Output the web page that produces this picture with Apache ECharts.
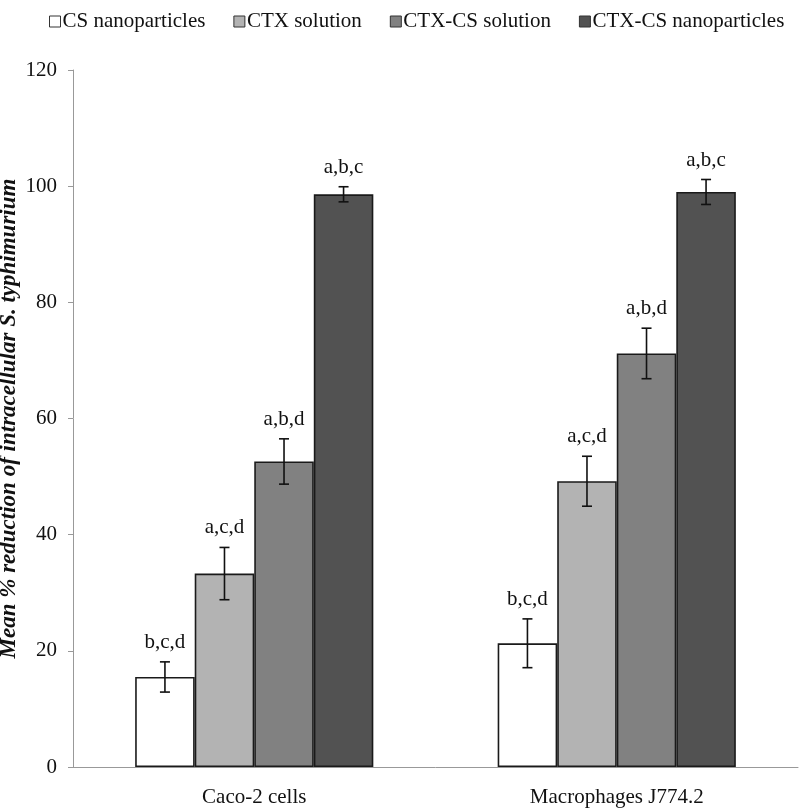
<!DOCTYPE html>
<html>
<head>
<meta charset="utf-8">
<script src="https://cdn.jsdelivr.net/npm/echarts@6/dist/echarts.min.js"></script>
<style>html,body{margin:0;padding:0;background:#fff}#c{width:799px;height:811px}</style>
</head>
<body>
<div id="c"></div>
<script>
const categories = ["Caco-2 cells", "Macrophages J774.2"];
const seriesNames = ["CS nanoparticles", "CTX solution", "CTX-CS solution", "CTX-CS nanoparticles"];
const csNano = [15.5, 21.3];
const ctxSol = [33.3, 49.2];
const ctxCsSol = [52.6, 71.2];
const ctxCsNano = [98.6, 99.0];
const csNanoErr = [2.6, 4.2];
const ctxSolErr = [4.5, 4.3];
const ctxCsSolErr = [3.9, 4.35];
const ctxCsNanoErr = [1.3, 2.15];
const csNanoSig = ["b,c,d", "b,c,d"];
const ctxSolSig = ["a,c,d", "a,c,d"];
const ctxCsSolSig = ["a,b,d", "a,b,d"];
const ctxCsNanoSig = ["a,b,c", "a,b,c"];
const yTicks = [0, 20, 40, 60, 80, 100, 120];

const values = [csNano, ctxSol, ctxCsSol, ctxCsNano];
const errs = [csNanoErr, ctxSolErr, ctxCsSolErr, ctxCsNanoErr];
const sigs = [csNanoSig, ctxSolSig, ctxCsSolSig, ctxCsNanoSig];
const colors = ["#ffffff", "#b3b3b3", "#818181", "#525252"];
const catGap = 0.343;
const serif = "'Liberation Serif', 'Times New Roman', serif";

const chart = echarts.init(document.getElementById('c'), null, {renderer: 'canvas'});

const series = [];
seriesNames.forEach((name, i) => {
  series.push({
    name: name,
    type: 'bar',
    data: values[i],
    barGap: '0%',
    barCategoryGap: (catGap * 100) + '%',
    itemStyle: {color: colors[i], borderColor: '#1a1a1a', borderWidth: 1.6},
    emphasis: {disabled: true}
  });
});
seriesNames.forEach((name, i) => {
  series.push({
    type: 'custom',
    name: name + ' err',
    data: values[i].map((v, k) => [k, v, errs[i][k]]),
    z: 5,
    silent: true,
    renderItem: function (params, api) {
      const cat = api.value(0), v = api.value(1), e = api.value(2);
      const band = api.size([1, 0])[0];
      const bw = band * (1 - catGap) / 4;
      const cx = api.coord([cat, v])[0] + (i - 1.5) * bw;
      const top = api.coord([cat, v + e])[1];
      const bot = api.coord([cat, v - e])[1];
      const cap = 5;
      const st = {stroke: '#111', lineWidth: 1.6};
      return {
        type: 'group',
        children: [
          {type: 'line', shape: {x1: cx, y1: top, x2: cx, y2: bot}, style: st},
          {type: 'line', shape: {x1: cx - cap, y1: top, x2: cx + cap, y2: top}, style: st},
          {type: 'line', shape: {x1: cx - cap, y1: bot, x2: cx + cap, y2: bot}, style: st},
          {type: 'text', x: cx, y: top - 9, style: {text: sigs[i][cat], fill: '#111', font: "21px " + serif, align: 'center', verticalAlign: 'bottom'}}
        ]
      };
    }
  });
});

chart.setOption({
  animation: false,
  backgroundColor: '#fff',
  legend: {
    data: seriesNames,
    left: 44,
    top: 6,
    itemGap: 28,
    itemWidth: 11,
    itemHeight: 11,
    icon: 'rect',
    itemStyle: {borderColor: '#333', borderWidth: 1},
    textStyle: {fontFamily: serif, fontSize: 21, color: '#111', padding: [0, 0, 0, -3]}
  },
  grid: {left: 73, right: 1, top: 70, bottom: 44, containLabel: false, outerBoundsMode: 'none'},
  xAxis: {
    type: 'category',
    data: categories,
    axisLine: {lineStyle: {color: '#999', width: 1}},
    axisTick: {show: false},
    axisLabel: {fontFamily: serif, fontSize: 21, color: '#111', margin: 20}
  },
  yAxis: {
    type: 'value',
    min: yTicks[0],
    max: yTicks[yTicks.length - 1],
    interval: 20,
    name: 'Mean % reduction of intracellular S. typhimurium',
    nameLocation: 'middle',
    nameGap: 52,
    nameMoveOverlap: false,
    nameTextStyle: {fontFamily: serif, fontSize: 23, fontWeight: 'bold', fontStyle: 'italic', color: '#111'},
    axisLine: {show: true, lineStyle: {color: '#999', width: 1}},
    axisTick: {show: true, length: 5, lineStyle: {color: '#999'}},
    splitLine: {show: false},
    axisLabel: {fontFamily: serif, fontSize: 21, color: '#111', margin: 16}
  },
  series: series
});
</script>
</body>
</html>
